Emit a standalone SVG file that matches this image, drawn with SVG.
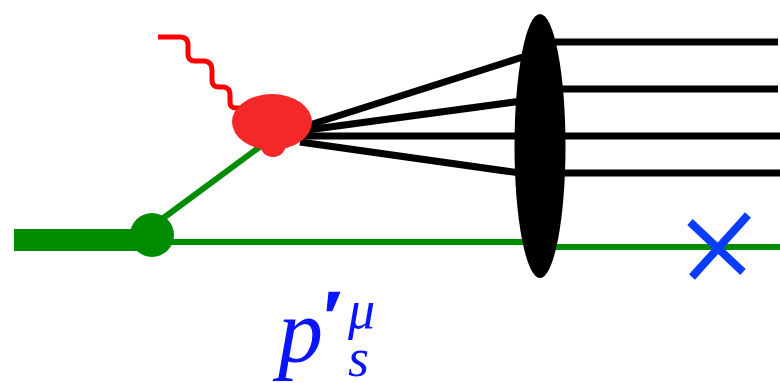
<svg xmlns="http://www.w3.org/2000/svg" width="780" height="383" viewBox="0 0 780 383">
<style>
.g{stroke:#008c00;fill:none}
.k{stroke:#000;stroke-width:7;fill:none}
.t{font-family:"Liberation Serif","DejaVu Serif",serif;font-style:italic;fill:#0a14ff}
</style>
<rect width="780" height="383" fill="#fff"/>
<g id="connectors">
<path class="g" d="M152,242 H525" stroke-width="6"/>
<path class="g" d="M555,247 H780" stroke-width="6"/>
<path class="g" d="M158,222 L265,143" stroke-width="6"/>
<path class="k" d="M300,128 L526,56"/>
<path class="k" d="M300,131 L522,101"/>
<path class="k" d="M300,136 H522"/>
<path class="k" d="M300,142 L520,173"/>
<path class="k" d="M555,42 H778"/>
<path class="k" d="M560,89 H778"/>
<path class="k" d="M562,136 H780"/>
<path class="k" d="M562,173 H780"/>
<path d="M158,37 H180 Q188,37 188,45 V54 Q188,61 195,61 H205 Q212,62 212,70 V80 Q212,87 219,87 H224 Q230,88 230,95 V102 Q230,108 236,108 H242" stroke="#ff0000" stroke-width="5" fill="none"/>
</g>
<g id="beam">
<rect x="14" y="229" width="140" height="22" fill="#008c00"/>
</g>
<g id="vertex">
<circle cx="152" cy="235" r="22" fill="#008c00"/>
</g>
<g id="blob">
<circle cx="273" cy="144" r="13" fill="#f42828"/>
<ellipse cx="272" cy="122" rx="40" ry="28" fill="#f42828"/>
</g>
<g id="hadron">
<ellipse cx="540" cy="146" rx="25.5" ry="132" fill="#000"/>
</g>
<g id="cross">
<path d="M690,222 L743,272 M748,215 L692,277" stroke="#0a3cff" stroke-width="8" fill="none"/>
</g>
<g id="label">
<text class="t" x="278" y="362" font-size="90">p</text>
<text class="t" x="322" y="340" font-size="72" font-weight="bold" stroke="#0a14ff" stroke-width="2.5">′</text>
<text class="t" x="348" y="328" font-size="54">μ</text>
<text class="t" x="348" y="376" font-size="54">s</text>
</g>
</svg>
